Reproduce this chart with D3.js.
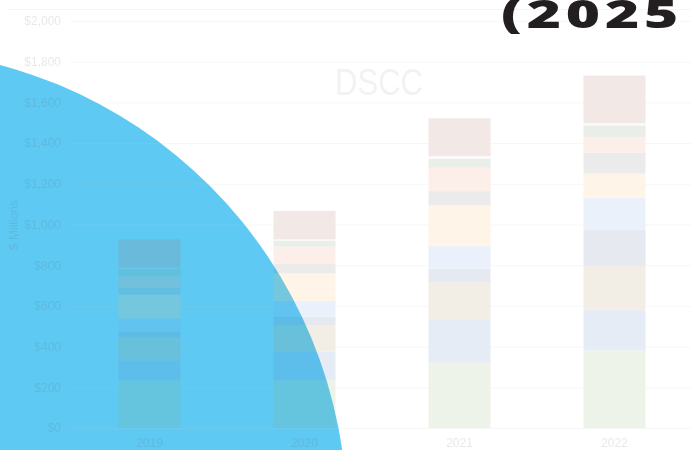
<!DOCTYPE html>
<html>
<head>
<meta charset="utf-8">
<script src="https://cdn.jsdelivr.net/npm/d3@7"></script>
<style>
  html, body { margin: 0; padding: 0; background: #fff; }
  svg { display: block; }
</style>
</head>
<body>
<svg id="chart" width="691" height="450"></svg>
<script>
// ---- data ----
const years = ["2019", "2020", "2021", "2022"];
const seriesNames = ["S1", "S2", "S3", "S4", "S5", "S6", "S7", "S8", "S9", "S10", "S11"];
const s1  = [234, 236, 321, 382];
const s2  = [98, 139, 210, 197];
const s3  = [115, 131, 183, 216];
const s4  = [25, 41, 69, 180];
const s5  = [66, 77, 111, 157];
const s6  = [118, 136, 200, 118];
const s7  = [34, 49, 70, 103];
const s8  = [56, 82, 115, 77];
const s9  = [38, 30, 43, 57];
const s10 = [4, 6, 15, 11];
const s11 = [139, 139, 185, 234];
const yTicks = [0, 200, 400, 600, 800, 1000, 1200, 1400, 1600, 1800, 2000];
const chartTitle = "DSCC";
const yAxisTitle = "$ Millions";
const overlayText = "(2025";

// ---- styles ----
const colors = ["#8EAF73", "#5880C3", "#A88E58", "#586C94", "#73A2DE", "#F8BC66",
                "#7A7A7A", "#EB8E66", "#6C8E6C", "#D9D9D9", "#A8665A"];

const allSeries = [s1, s2, s3, s4, s5, s6, s7, s8, s9, s10, s11];
const table = years.map((y, i) => {
  const row = { year: y };
  seriesNames.forEach((n, k) => row[n] = allSeries[k][i]);
  return row;
});

const svg = d3.select("#chart");
const W = 691, H = 450;

svg.append("rect").attr("width", W).attr("height", H).attr("fill", "#fff");

// decorative circle
svg.append("circle")
  .attr("cx", -121).attr("cy", 517).attr("r", 468)
  .attr("fill", "#5EC9F3");

const x = d3.scaleBand().domain(years).range([72, 692]).paddingInner(0.6).paddingOuter(0.3);
const y = d3.scaleLinear().domain([0, 2000]).range([428, 21]);

const chart = svg.append("g").attr("opacity", 0.15);

// top frame line
chart.append("line").attr("x1", 7).attr("x2", W).attr("y1", 9.5).attr("y2", 9.5)
  .attr("stroke", "#bbb").attr("stroke-width", 1);

// y axis with gridlines
const yAxis = d3.axisLeft(y).tickValues(yTicks)
  .tickSize(-621).tickPadding(9)
  .tickFormat(d => "$" + d3.format(",")(d));
const gy = chart.append("g").attr("transform", "translate(70,0)").call(yAxis);
gy.select(".domain").remove();
gy.selectAll(".tick line").attr("stroke", "#c8c8c8").attr("stroke-width", 1);
gy.selectAll(".tick text").attr("fill", "#666").attr("font-size", 12)
  .attr("font-family", "'Liberation Sans', Arial, sans-serif");

// y title
chart.append("text")
  .attr("transform", "translate(18,225) rotate(-90)")
  .attr("text-anchor", "middle")
  .attr("fill", "#666").attr("font-size", 12)
  .attr("font-family", "'Liberation Sans', Arial, sans-serif")
  .text(yAxisTitle);

// bars
const stack = d3.stack().keys(seriesNames)(table);
chart.append("g").selectAll("g").data(stack).join("g")
  .attr("fill", (d, i) => colors[i])
  .selectAll("rect").data(d => d).join("rect")
  .attr("x", d => x(d.data.year))
  .attr("width", x.bandwidth())
  .attr("y", d => y(d[1]))
  .attr("height", d => y(d[0]) - y(d[1]));

// x axis
const gx = chart.append("g").attr("transform", "translate(0,428)")
  .call(d3.axisBottom(x).tickSize(0).tickPadding(10));
gx.select(".domain").remove();
gx.selectAll(".tick text").attr("fill", "#666").attr("font-size", 12)
  .attr("font-family", "'Liberation Sans', Arial, sans-serif");

// chart title
chart.append("text")
  .attr("x", 379).attr("y", 95)
  .attr("text-anchor", "middle")
  .attr("fill", "#aaa").attr("font-size", 37)
  .attr("font-family", "'Liberation Sans', Arial, sans-serif")
  .attr("textLength", 88).attr("lengthAdjust", "spacingAndGlyphs")
  .text(chartTitle);

// overlay big text (cut at the right edge as in the reference)
svg.append("text")
  .attr("transform", "translate(501,28) scale(1.5,1)")
  .attr("fill", "#231F20").attr("font-size", 39).attr("font-weight", 800)
  .attr("letter-spacing", 3.2)
  .attr("font-family", "'Open Sans', sans-serif")
  .text(overlayText);
</script>
</body>
</html>
